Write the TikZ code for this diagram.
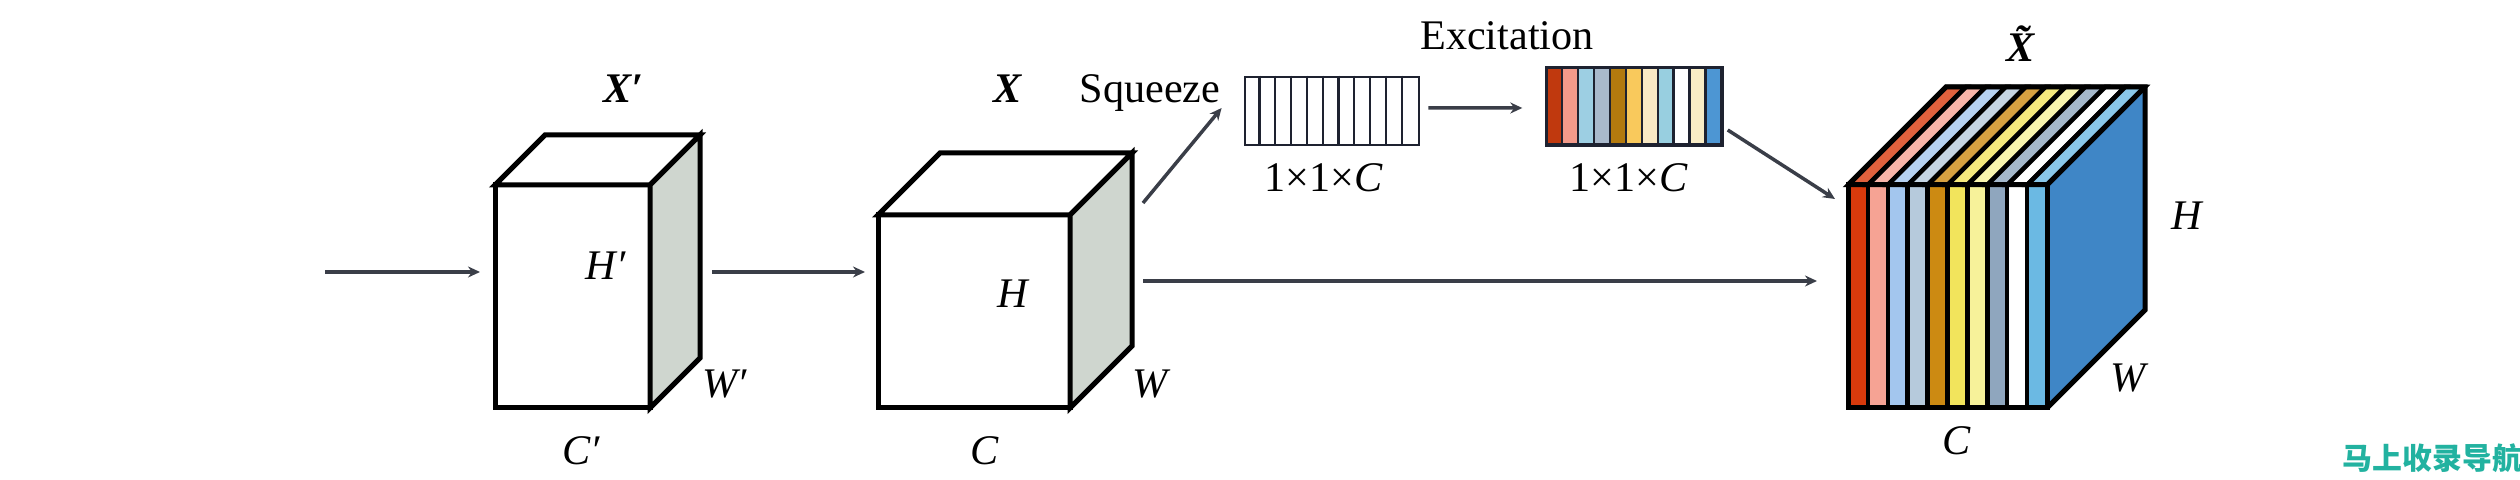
\documentclass[tikz,border=0pt]{standalone}
\usepackage{fontspec}
\setmainfont{Liberation Serif}
\newfontfamily\cjk{Noto Sans CJK SC}
\usepackage{tikz}
\usetikzlibrary{arrows,arrows.meta,calc}
\usepackage{xcolor}
\definecolor{linegray}{RGB}{58,62,72}
\definecolor{barline}{RGB}{30,34,48}
\definecolor{sidegray}{RGB}{207,214,207}
\definecolor{sideblue}{RGB}{63,134,198}
\definecolor{wmteal}{RGB}{34,178,160}
% excitation weights
\definecolor{ea}{RGB}{192,57,14}
\definecolor{eb}{RGB}{242,154,138}
\definecolor{ec}{RGB}{157,207,227}
\definecolor{ed}{RGB}{169,185,203}
\definecolor{ee}{RGB}{179,122,14}
\definecolor{ef}{RGB}{249,201,92}
\definecolor{eg}{RGB}{249,233,196}
\definecolor{eh}{RGB}{152,207,224}
\definecolor{ei}{RGB}{255,255,255}
\definecolor{ej}{RGB}{249,237,198}
\definecolor{ek}{RGB}{77,150,211}
% reweighted channels
\definecolor{ta}{RGB}{216,58,12}
\definecolor{tb}{RGB}{246,163,148}
\definecolor{tc}{RGB}{163,198,238}
\definecolor{td}{RGB}{182,202,220}
\definecolor{te}{RGB}{204,138,18}
\definecolor{tf}{RGB}{242,228,92}
\definecolor{tg}{RGB}{247,242,154}
\definecolor{th}{RGB}{143,166,190}
\definecolor{ti}{RGB}{255,255,255}
\definecolor{tj}{RGB}{107,185,227}
\tikzstyle{arrow} = [line width=0.35mm,->,>={Stealth[length=1.2mm,width=1.1mm]},color=linegray]
\tikzstyle{face} = [line width=0.5mm,draw=black,inner sep=0pt,outer sep=0pt]
\tikzstyle{lbl} = [font=\fontsize{12}{14}\selectfont,anchor=base,inner sep=0pt]

\begin{document}
\begin{tikzpicture}[x=0.1mm,y=-0.1mm]
\useasboundingbox (0,0) rectangle (2520,480);

% Input feature map
\node[face, fill=white, minimum width=15.5mm, minimum height=22.3mm] (xp) at (572.5,296.5) {};
\draw[face, fill=white] (xp.north west) -- ++(50,-50) -- ++(155,0) -- (xp.north east) -- cycle;
\draw[face, fill=sidegray] (xp.north east) -- ++(50,-50) -- ++(0,223) -- (xp.south east) -- cycle;

% Feature map X
\node[face, fill=white, minimum width=19.2mm, minimum height=19.3mm] (xx) at (974,311.5) {};
\draw[face, fill=white] (xx.north west) -- ++(62,-62) -- ++(192,0) -- (xx.north east) -- cycle;
\draw[face, fill=sidegray] (xx.north east) -- ++(62,-62) -- ++(0,193) -- (xx.south east) -- cycle;

% Squeeze vector
\node[draw=barline, line width=0.28mm, fill=white, minimum width=17.4mm, minimum height=6.8mm, inner sep=0pt] (sq) at (1332,111) {};
\foreach \i in {1,...,10}
    \draw[barline, line width=0.22mm] ($(sq.north west)+(\i*15.82,0)$) -- ($(sq.south west)+(\i*15.82,0)$);

% Excitation vector
\node[minimum width=17.5mm, minimum height=7.7mm, inner sep=0pt] (ex) at (1634.5,106.5) {};
\foreach \c [count=\i from 0] in {ea,eb,ec,ed,ee,ef,eg,eh,ei,ej,ek}
    \filldraw[fill=\c, draw=barline, line width=0.22mm] ($(ex.north west)+(\i*15.91,0)$) rectangle ++(15.91,77);
\draw[barline, line width=0.3mm] (ex.north west) rectangle (ex.south east);

% Output feature map
\node[minimum width=19.9mm, minimum height=22.3mm, inner sep=0pt, outer sep=0pt] (xt) at (1947.5,296.5) {};
\fill[sideblue] (xt.north east) -- ++(98,-98) -- ++(0,223) -- (xt.south east) -- cycle;
\foreach \c [count=\i from 0] in {ta,tb,tc,td,te,tf,tg,th,ti,tj} {
    \filldraw[fill=\c, draw=black, line width=0.45mm] ($(xt.north west)+(\i*19.9,0)$) rectangle ++(19.9,223);
    \filldraw[fill=\c!80!white, draw=black, line width=0.45mm] ($(xt.north west)+(\i*19.9,0)$) -- ++(98,-98) -- ++(19.9,0) -- ++(-98,98) -- cycle;
}
\draw[face] (xt.north west) rectangle (xt.south east);
\draw[face] (xt.north west) -- ++(98,-98) -- ++(199,0) -- ++(0,223) -- (xt.south east);
\draw[face] (xt.north east) -- ++(98,-98);

% Arrows
\coordinate (in) at (325,272);
\coordinate (skip) at ($(xx.east)+(73,-30.5)$);
\draw[arrow, shorten >=1.5mm] (in) -- (in -| xp.west);
\draw[arrow, shorten <=6.2mm, shorten >=1.3mm] (in -| xp.east) -- (in -| xx.west);
\draw[arrow, shorten >=3.1mm] (skip) -- (skip -| xt.west);
\draw[arrow] ($(xx.north east)+(73,-12)$) -- ($(sq.west)+(-22,-3)$);
\draw[arrow] ($(sq.east)+(8,-3)$) -- ($(ex.west)+(-24,1.5)$);
\draw[arrow] ($(ex.east)+(5,23.5)$) -- ($(xt.north west)+(-13,14)$);

% Labels
\node[lbl] (tXp) at (623,103) {\textbf{\textit{X′}}};
\node[lbl] (tHp) at (606,280) {\textit{H′}};
\node[lbl] (tWp) at (725,398) {\textit{W′}};
\node[lbl] (tCp) at (581,465) {\textit{C′}};
\node[lbl] (tX) at (1008,103) {\textbf{\textit{X}}};
\node[lbl] (tH) at (1014,308) {\textit{H}};
\node[lbl] (tW) at (1152,398) {\textit{W}};
\node[lbl] (tC) at (985,465) {\textit{C}};
\node[lbl] (tsq) at (1150,103) {Squeeze};
\node[lbl] (tsqd) at (1324,192) {1×1×\textit{C}};
\node[lbl] (tex) at (1507,50) {Excitation};
\node[lbl] (texd) at (1629,192) {1×1×\textit{C}};
\node[lbl] (tXt) at (2029,62) {\textbf{\textit{\~{X}}}};
\node[lbl] (tHt) at (2188,230) {\textit{H}};
\node[lbl] (tWt) at (2130,392) {\textit{W}};
\node[lbl] (tCt) at (1957,455) {\textit{C}};

% Watermark
\node[anchor=west, inner sep=0pt, text=wmteal, font=\cjk\bfseries\fontsize{8.5}{10}\selectfont] (wm) at (2342,458) {马上收录导航};
\end{tikzpicture}
\end{document}
